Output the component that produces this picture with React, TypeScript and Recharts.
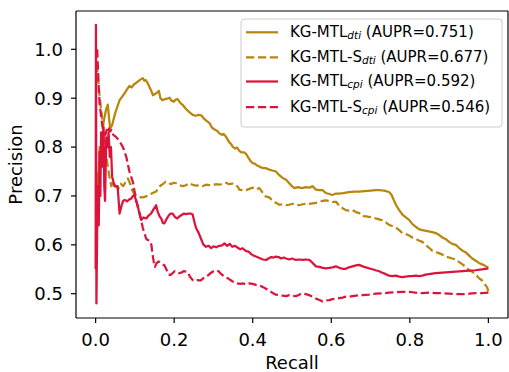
import React from 'react';
import { LineChart, Line, XAxis, YAxis, ReferenceLine } from 'recharts';

// ---- Data ----
const dtiRecall = [0.002,0.006,0.010,0.015,0.020,0.026,0.031,0.034,0.037,0.042,0.050,0.061,0.072,0.080,0.086,0.092,0.097,0.104,0.112,0.120,0.124,0.128,0.133,0.140,0.146,0.152,0.157,0.161,0.165,0.170,0.176,0.182,0.188,0.193,0.199,0.204,0.209,0.216,0.222,0.230,0.238,0.247,0.255,0.262,0.269,0.277,0.285,0.290,0.296,0.303,0.310,0.315,0.322,0.326,0.332,0.340,0.345,0.349,0.355,0.360,0.366,0.372,0.378,0.383,0.390,0.395,0.400,0.405,0.410,0.417,0.425,0.433,0.442,0.450,0.459,0.467,0.476,0.485,0.493,0.500,0.506,0.515,0.525,0.535,0.544,0.552,0.561,0.570,0.578,0.586,0.595,0.603,0.612,0.620,0.630,0.645,0.660,0.671,0.685,0.700,0.713,0.722,0.735,0.747,0.753,0.760,0.766,0.772,0.781,0.790,0.798,0.806,0.815,0.823,0.832,0.845,0.857,0.866,0.875,0.883,0.891,0.900,0.908,0.917,0.925,0.934,0.942,0.951,0.959,0.967,0.976,0.984,0.992,1.0];
const dtiPrecision = [0.75,0.69,0.80,0.77,0.85,0.875,0.887,0.86,0.838,0.845,0.87,0.896,0.908,0.918,0.925,0.922,0.928,0.932,0.937,0.941,0.936,0.937,0.93,0.918,0.906,0.909,0.912,0.915,0.90,0.896,0.898,0.899,0.901,0.895,0.893,0.897,0.898,0.89,0.886,0.878,0.872,0.866,0.864,0.866,0.865,0.857,0.852,0.849,0.84,0.836,0.833,0.828,0.825,0.827,0.821,0.81,0.806,0.801,0.797,0.799,0.792,0.789,0.789,0.786,0.777,0.771,0.767,0.766,0.763,0.760,0.757,0.757,0.754,0.752,0.750,0.743,0.737,0.733,0.726,0.72,0.716,0.718,0.716,0.718,0.717,0.720,0.713,0.712,0.712,0.706,0.704,0.702,0.705,0.705,0.706,0.708,0.709,0.709,0.710,0.711,0.712,0.712,0.711,0.708,0.703,0.690,0.680,0.672,0.662,0.656,0.651,0.643,0.637,0.632,0.630,0.628,0.626,0.624,0.620,0.615,0.612,0.606,0.602,0.600,0.594,0.588,0.585,0.578,0.572,0.568,0.563,0.560,0.557,0.553];

const sdtiRecall = [0.003,0.006,0.010,0.015,0.020,0.025,0.030,0.035,0.040,0.045,0.050,0.058,0.064,0.070,0.076,0.082,0.088,0.093,0.098,0.103,0.110,0.115,0.120,0.128,0.137,0.145,0.154,0.160,0.166,0.171,0.178,0.184,0.192,0.199,0.205,0.213,0.222,0.230,0.238,0.247,0.255,0.264,0.272,0.281,0.290,0.298,0.306,0.315,0.323,0.332,0.340,0.349,0.357,0.362,0.366,0.372,0.378,0.383,0.390,0.396,0.404,0.410,0.417,0.425,0.433,0.442,0.450,0.459,0.468,0.476,0.485,0.493,0.501,0.510,0.518,0.527,0.535,0.544,0.552,0.561,0.570,0.578,0.586,0.595,0.603,0.612,0.620,0.629,0.637,0.645,0.654,0.663,0.671,0.679,0.688,0.696,0.705,0.713,0.722,0.730,0.739,0.747,0.756,0.764,0.773,0.781,0.790,0.798,0.806,0.815,0.823,0.832,0.840,0.849,0.857,0.866,0.874,0.883,0.891,0.900,0.908,0.917,0.925,0.934,0.942,0.951,0.959,0.967,0.976,0.984,0.992,0.997,1.0];
const sdtiPrecision = [0.97,0.94,0.905,0.87,0.83,0.795,0.765,0.74,0.72,0.73,0.72,0.715,0.725,0.72,0.728,0.736,0.725,0.712,0.705,0.702,0.699,0.697,0.697,0.699,0.702,0.706,0.709,0.716,0.722,0.724,0.729,0.728,0.724,0.727,0.726,0.722,0.72,0.722,0.726,0.723,0.721,0.722,0.72,0.723,0.722,0.722,0.724,0.723,0.725,0.727,0.724,0.725,0.721,0.719,0.713,0.712,0.711,0.712,0.714,0.716,0.717,0.714,0.716,0.707,0.699,0.697,0.691,0.686,0.682,0.683,0.681,0.682,0.684,0.682,0.681,0.683,0.684,0.684,0.685,0.686,0.688,0.690,0.691,0.690,0.688,0.688,0.680,0.675,0.671,0.670,0.671,0.667,0.665,0.659,0.658,0.657,0.656,0.654,0.652,0.650,0.646,0.641,0.638,0.636,0.630,0.624,0.622,0.619,0.615,0.612,0.609,0.606,0.600,0.594,0.588,0.585,0.583,0.580,0.576,0.574,0.572,0.570,0.565,0.560,0.555,0.548,0.545,0.540,0.532,0.527,0.518,0.513,0.504];

const cpiRecall = [0.0,0.0008,0.0015,0.002,0.004,0.006,0.008,0.010,0.012,0.014,0.017,0.020,0.022,0.024,0.027,0.030,0.033,0.036,0.039,0.042,0.045,0.048,0.052,0.056,0.061,0.066,0.070,0.074,0.080,0.086,0.091,0.095,0.099,0.103,0.107,0.111,0.116,0.122,0.129,0.135,0.141,0.147,0.154,0.158,0.163,0.167,0.171,0.175,0.180,0.186,0.191,0.196,0.202,0.208,0.213,0.219,0.225,0.230,0.236,0.242,0.247,0.252,0.256,0.262,0.268,0.274,0.281,0.288,0.294,0.300,0.307,0.315,0.322,0.328,0.335,0.341,0.348,0.355,0.362,0.368,0.374,0.383,0.390,0.396,0.402,0.408,0.414,0.420,0.426,0.434,0.440,0.447,0.453,0.459,0.466,0.472,0.479,0.485,0.493,0.500,0.510,0.518,0.527,0.535,0.544,0.550,0.556,0.561,0.570,0.578,0.586,0.595,0.603,0.612,0.620,0.629,0.637,0.645,0.654,0.663,0.671,0.680,0.688,0.696,0.705,0.713,0.722,0.730,0.739,0.747,0.756,0.764,0.773,0.781,0.790,0.798,0.806,0.815,0.823,0.832,0.840,0.849,0.857,0.866,0.883,0.900,0.917,0.934,0.951,0.967,0.984,1.0];
const cpiPrecision = [0.55,1.05,0.76,0.48,0.64,0.72,0.64,0.79,0.70,0.83,0.76,0.84,0.72,0.69,0.82,0.80,0.83,0.78,0.80,0.74,0.73,0.72,0.72,0.72,0.664,0.68,0.69,0.692,0.689,0.693,0.695,0.70,0.702,0.69,0.681,0.665,0.651,0.656,0.654,0.66,0.664,0.672,0.681,0.668,0.658,0.654,0.645,0.644,0.652,0.66,0.664,0.664,0.657,0.654,0.658,0.661,0.664,0.663,0.664,0.664,0.662,0.645,0.634,0.625,0.613,0.601,0.596,0.598,0.593,0.597,0.595,0.598,0.599,0.603,0.598,0.602,0.596,0.598,0.594,0.591,0.593,0.587,0.586,0.581,0.578,0.576,0.574,0.572,0.570,0.569,0.572,0.575,0.574,0.576,0.575,0.572,0.574,0.572,0.570,0.572,0.569,0.570,0.569,0.570,0.569,0.565,0.560,0.556,0.555,0.553,0.552,0.553,0.554,0.556,0.553,0.551,0.551,0.554,0.556,0.558,0.559,0.556,0.554,0.552,0.550,0.548,0.546,0.543,0.540,0.537,0.536,0.537,0.535,0.534,0.535,0.536,0.536,0.537,0.536,0.537,0.539,0.540,0.541,0.542,0.543,0.544,0.545,0.546,0.547,0.548,0.550,0.552];

const scpiRecall = [0.004,0.006,0.008,0.010,0.013,0.016,0.019,0.022,0.025,0.028,0.031,0.034,0.037,0.040,0.045,0.050,0.055,0.060,0.066,0.072,0.078,0.086,0.095,0.101,0.107,0.112,0.116,0.120,0.125,0.129,0.133,0.139,0.142,0.145,0.148,0.151,0.155,0.160,0.165,0.170,0.175,0.180,0.185,0.190,0.196,0.201,0.205,0.211,0.218,0.224,0.230,0.235,0.240,0.247,0.254,0.260,0.267,0.273,0.280,0.287,0.294,0.300,0.307,0.313,0.320,0.326,0.332,0.340,0.347,0.353,0.360,0.368,0.376,0.383,0.391,0.400,0.408,0.417,0.425,0.434,0.442,0.450,0.459,0.468,0.476,0.485,0.493,0.501,0.510,0.518,0.527,0.535,0.544,0.552,0.561,0.570,0.578,0.586,0.595,0.603,0.612,0.620,0.629,0.637,0.645,0.654,0.663,0.671,0.680,0.696,0.713,0.730,0.747,0.764,0.781,0.790,0.806,0.823,0.832,0.849,0.866,0.883,0.900,0.917,0.933,0.951,0.967,0.984,1.0];
const scpiPrecision = [1.0,0.96,0.92,0.89,0.87,0.85,0.835,0.83,0.825,0.835,0.83,0.838,0.832,0.835,0.825,0.822,0.818,0.812,0.805,0.795,0.78,0.75,0.728,0.70,0.678,0.665,0.651,0.635,0.622,0.612,0.61,0.608,0.60,0.58,0.565,0.555,0.562,0.566,0.563,0.560,0.558,0.55,0.540,0.538,0.542,0.546,0.545,0.542,0.543,0.546,0.545,0.544,0.535,0.528,0.526,0.528,0.527,0.531,0.535,0.538,0.543,0.546,0.548,0.546,0.540,0.536,0.533,0.530,0.526,0.523,0.521,0.520,0.521,0.519,0.521,0.520,0.518,0.517,0.514,0.510,0.506,0.502,0.498,0.497,0.496,0.495,0.497,0.496,0.495,0.498,0.501,0.499,0.497,0.494,0.490,0.487,0.484,0.486,0.487,0.489,0.490,0.491,0.492,0.494,0.494,0.495,0.496,0.497,0.497,0.498,0.500,0.501,0.502,0.503,0.504,0.504,0.503,0.501,0.501,0.502,0.501,0.501,0.500,0.499,0.499,0.500,0.501,0.501,0.502];

const xTicks = [0, 0.2, 0.4, 0.6, 0.8, 1.0];
const yTicks = [0.5, 0.6, 0.7, 0.8, 0.9, 1.0];

const seriesNames = ['KG-MTL', 'KG-MTL-S', 'KG-MTL', 'KG-MTL-S'];
const seriesSubs = ['dti', 'dti', 'cpi', 'cpi'];
const seriesAupr = ['0.751', '0.677', '0.592', '0.546'];

const GOLD = '#B8860B';
const RED = '#DC143C';
const FONT = 'DejaVu Sans, sans-serif';
const DASH = '8.3 3.6';

const X_DOMAIN: [number, number] = [-0.05, 1.05];
const Y_DOMAIN: [number, number] = [0.4503, 1.0784];

const zip = (r: number[], p: number[]) => r.map((v, i) => ({ r: v, p: p[i] }));

const series = [
  { data: zip(dtiRecall, dtiPrecision), color: GOLD, dash: undefined as string | undefined },
  { data: zip(sdtiRecall, sdtiPrecision), color: GOLD, dash: DASH },
  { data: zip(cpiRecall, cpiPrecision), color: RED, dash: undefined as string | undefined },
  { data: zip(scpiRecall, scpiPrecision), color: RED, dash: DASH },
];

const LegendBox = () => {
  const rowYs = [32.3, 57.3, 81.5, 107];
  return (
    <svg width={509} height={372} style={{ position: 'absolute', left: 0, top: 0, pointerEvents: 'none' }}>
      <rect x={241} y={19} width={261} height={108} rx={3} ry={3} fill="#ffffff" fillOpacity={0.8} stroke="#cccccc" strokeWidth={1} />
      {series.map((s, i) => (
        <g key={i}>
          <line x1={246} x2={278} y1={rowYs[i]} y2={rowYs[i]} stroke={s.color} strokeWidth={2.25} strokeDasharray={s.dash} />
          <text x={290} y={rowYs[i] + 4.7} fontFamily={FONT} fontSize={15} fill="#000">
            <tspan>{seriesNames[i]}</tspan>
            <tspan fontSize={10.5} fontStyle="italic" dy={2.2}>{seriesSubs[i]}</tspan>
            <tspan dy={-2.2}>{' (AUPR=' + seriesAupr[i] + ')'}</tspan>
          </text>
        </g>
      ))}
    </svg>
  );
};

const XLabel = (props: any) => {
  const vb = props.viewBox || {};
  return (
    <text x={vb.x + vb.width / 2} y={vb.y + vb.height - 3} textAnchor="middle" fontFamily={FONT} fontSize={18} fill="#000">Recall</text>
  );
};

const YLabel = (props: any) => {
  const vb = props.viewBox || {};
  const cx = 21.5;
  const cy = vb.y + vb.height / 2;
  return (
    <text x={cx} y={cy} transform={`rotate(-90 ${cx} ${cy})`} textAnchor="middle" fontFamily={FONT} fontSize={18} fill="#000">Precision</text>
  );
};

export default function App() {
  return (
    <div style={{ position: 'absolute', left: 0, top: 0, width: 509, height: 372, background: '#fff' }}>
      <LineChart width={509} height={372} margin={{ top: 11, right: 1, bottom: 0, left: 0 }}>
        <XAxis
          dataKey="r"
          type="number"
          domain={X_DOMAIN}
          allowDataOverflow
          ticks={xTicks}
          tickFormatter={(v: number) => v.toFixed(1)}
          height={54}
          tickSize={5}
          tickMargin={10}
          tick={{ fill: '#000', fontSize: 18, fontFamily: FONT }}
          tickLine={{ stroke: '#000', strokeWidth: 1.2 }}
          axisLine={{ stroke: '#000', strokeWidth: 1.2 }}
          label={{ content: XLabel }}
        />
        <YAxis
          type="number"
          domain={Y_DOMAIN}
          allowDataOverflow
          ticks={yTicks}
          tickFormatter={(v: number) => v.toFixed(1)}
          width={76}
          tickSize={5}
          tickMargin={8}
          tick={{ fill: '#000', fontSize: 18, fontFamily: FONT }}
          tickLine={{ stroke: '#000', strokeWidth: 1.2 }}
          axisLine={{ stroke: '#000', strokeWidth: 1.2 }}
          label={{ content: YLabel }}
        />
        <ReferenceLine y={Y_DOMAIN[1]} stroke="#000" strokeWidth={1.2} ifOverflow="visible" />
        <ReferenceLine x={X_DOMAIN[1]} stroke="#000" strokeWidth={1.2} ifOverflow="visible" />
        {series.map((s, i) => (
          <Line
            key={i}
            data={s.data}
            dataKey="p"
            type="linear"
            dot={false}
            activeDot={false}
            stroke={s.color}
            strokeWidth={2.25}
            strokeDasharray={s.dash}
            strokeLinejoin="round"
            isAnimationActive={false}
          />
        ))}
      </LineChart>
      <LegendBox />
    </div>
  );
}
